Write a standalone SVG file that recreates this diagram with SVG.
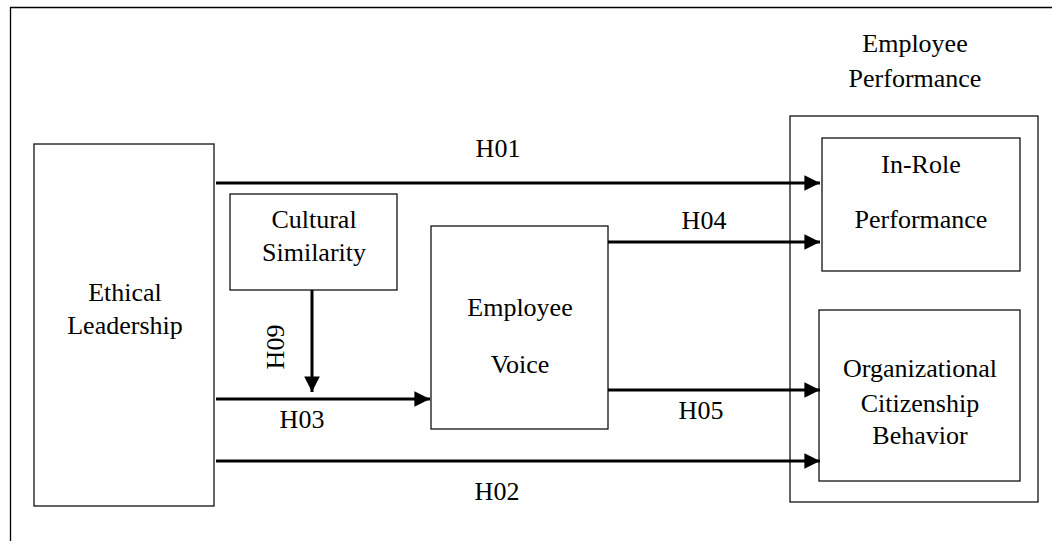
<svg xmlns="http://www.w3.org/2000/svg" width="1052" height="541" viewBox="0 0 1052 541">
<style>
.box{fill:#fff;stroke:#111;stroke-width:1.3}
.t{font-family:"Liberation Serif","Times New Roman",serif;font-size:26px;fill:#000;text-anchor:middle}
.c{stroke:#000;stroke-width:3;fill:none}
</style>
<defs>
<marker id="ah" viewBox="0 0 10 10" refX="10" refY="5" markerWidth="5.3" markerHeight="5.2" markerUnits="strokeWidth" orient="auto">
<path d="M0,0 L10,5 L0,10 z" fill="#000"/>
</marker>
</defs>
<rect width="1052" height="541" fill="#fff"/>
<path d="M10.5,545 L10.5,7.5 L1052,7.5" fill="none" stroke="#000" stroke-width="1.3"/>
<g id="employee-performance">
<rect class="box" x="790" y="116" width="248" height="386"/>
<text class="t" x="915" y="52">Employee</text>
<text class="t" x="915" y="87">Performance</text>
</g>
<g id="ethical-leadership">
<rect class="box" x="34" y="144" width="180" height="362"/>
<text class="t" x="125" y="301">Ethical</text>
<text class="t" x="125" y="334">Leadership</text>
</g>
<g id="cultural-similarity">
<rect class="box" x="230" y="194" width="167" height="96"/>
<text class="t" x="314" y="228">Cultural</text>
<text class="t" x="314" y="261">Similarity</text>
</g>
<g id="employee-voice">
<rect class="box" x="431" y="226" width="177" height="203"/>
<text class="t" x="520" y="316">Employee</text>
<text class="t" x="520" y="373">Voice</text>
</g>
<g id="in-role">
<rect class="box" x="822" y="138" width="198" height="133"/>
<text class="t" x="921" y="173">In-Role</text>
<text class="t" x="921" y="228">Performance</text>
</g>
<g id="ocb">
<rect class="box" x="819" y="310" width="201" height="171"/>
<text class="t" x="920" y="377">Organizational</text>
<text class="t" x="920" y="412">Citizenship</text>
<text class="t" x="920" y="444">Behavior</text>
</g>
<g id="connectors">
<line class="c" x1="216" y1="183" x2="820" y2="183" marker-end="url(#ah)"/>
<line class="c" x1="608" y1="242" x2="820" y2="242" marker-end="url(#ah)"/>
<line class="c" x1="608" y1="390" x2="820" y2="390" marker-end="url(#ah)"/>
<line class="c" x1="216" y1="461" x2="820" y2="461" marker-end="url(#ah)"/>
<line class="c" x1="216" y1="399" x2="430" y2="399" marker-end="url(#ah)"/>
<line class="c" x1="312" y1="290" x2="312" y2="392" marker-end="url(#ah)"/>
<text class="t" x="498" y="157">H01</text>
<text class="t" x="704" y="229">H04</text>
<text class="t" x="701" y="419">H05</text>
<text class="t" x="497" y="500">H02</text>
<text class="t" x="302" y="428">H03</text>
<text class="t" transform="translate(284,347) rotate(-90)">H09</text>
</g>
</svg>
